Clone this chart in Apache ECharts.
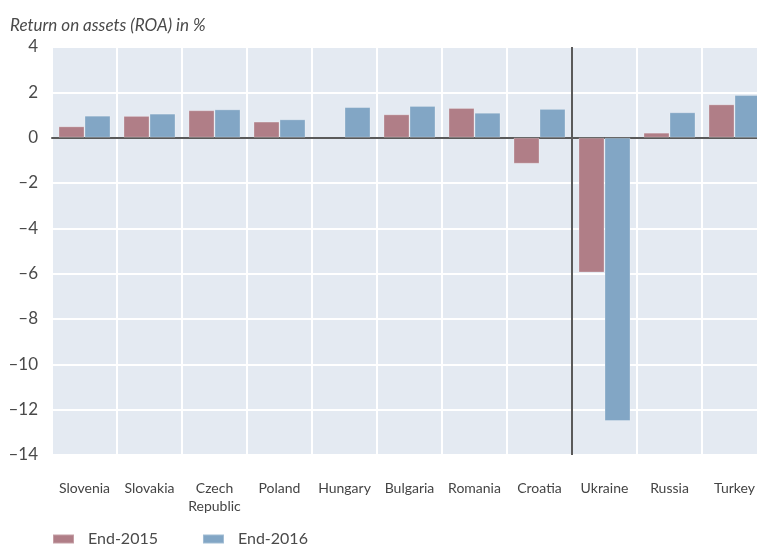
<!DOCTYPE html>
<html>
<head>
<meta charset="utf-8">
<script src="https://cdn.jsdelivr.net/npm/echarts@6/dist/echarts.min.js"></script>
<style>html,body{margin:0;padding:0;background:#fff;overflow:hidden;}#c{width:767px;height:547px;}</style>
</head>
<body>
<div id="c"></div>
<script>
const categories = ['Slovenia','Slovakia','Czech\nRepublic','Poland','Hungary','Bulgaria','Romania','Croatia','Ukraine','Russia','Turkey'];
const end2015 = [0.5, 0.96, 1.21, 0.71, null, 1.03, 1.31, -1.15, -5.95, 0.22, 1.47];
const end2016 = [0.97, 1.06, 1.25, 0.81, 1.35, 1.4, 1.1, 1.27, -12.5, 1.12, 1.88];
const yTicks = [4, 2, 0, -2, -4, -6, -8, -10, -12, -14];
const seriesNames = ['End-2015', 'End-2016'];
const title = 'Return on assets (ROA) in %';

const FONT = 'Lato, "Open Sans", sans-serif';
const chart = echarts.init(document.getElementById('c'), null, {renderer: 'canvas'});
const option = {
  animation: false,
  backgroundColor: '#fff',
  title: {
    text: title, left: 10, top: 17, padding: 0,
    textStyle: {fontFamily: FONT, fontStyle: 'italic', fontWeight: 'normal', fontSize: 17, color: '#4a4a4a'}
  },
  legend: {
    left: 52, top: 531, padding: 0, itemWidth: 21, itemHeight: 9, itemGap: 44,
    icon: 'rect',
    textStyle: {fontFamily: FONT, fontSize: 16, color: '#4a4a4a', padding: [0, 0, 0, 9]},
    data: seriesNames
  },
  grid: {left: 52, right: 0, top: 47, height: 408, show: true, backgroundColor: '#e4eaf2', borderWidth: 0},
  xAxis: {
    type: 'category', data: categories,
    axisLine: {onZero: true, lineStyle: {color: '#5a5a5a', width: 2}},
    axisTick: {show: false},
    axisLabel: {fontFamily: FONT, fontSize: 14, color: '#444', margin: 24, lineHeight: 18, interval: 0},
    splitLine: {show: true, lineStyle: {color: '#ffffff', width: 2}}
  },
  yAxis: {
    type: 'value', min: -14, max: 4, interval: 2,
    axisLine: {show: false}, axisTick: {show: false},
    axisLabel: {fontFamily: FONT, fontSize: 17, color: '#4a4a4a', margin: 14,
      formatter: v => (v < 0 ? '\u2013' + Math.abs(v) : String(v))},
    splitLine: {lineStyle: {color: '#ffffff', width: 2}}
  },
  series: [
    {name: seriesNames[0], type: 'bar', data: end2015, barWidth: 26, barGap: '0%',
     itemStyle: {color: '#b07e87', borderColor: 'rgba(255,255,255,0.25)', borderWidth: 1}},
    {name: seriesNames[1], type: 'bar', data: end2016, barWidth: 26, barGap: '0%',
     itemStyle: {color: '#82a6c5', borderColor: 'rgba(255,255,255,0.25)', borderWidth: 1}}
  ]
};
chart.setOption(option);

// separator between Croatia and Ukraine, computed from the axis scale
const xa = chart.convertToPixel({xAxisIndex: 0}, categories[7]);
const xb = chart.convertToPixel({xAxisIndex: 0}, categories[8]);
const sepX = Math.round((xa + xb) / 2);
const yTop = chart.convertToPixel({yAxisIndex: 0}, yTicks[0]);
const yBot = chart.convertToPixel({yAxisIndex: 0}, yTicks[yTicks.length - 1]);
chart.setOption({
  graphic: [{type: 'line', z: 100, shape: {x1: sepX, y1: yTop, x2: sepX, y2: yBot},
    style: {stroke: '#5a5a5a', lineWidth: 2}}]
});
</script>
</body>
</html>
